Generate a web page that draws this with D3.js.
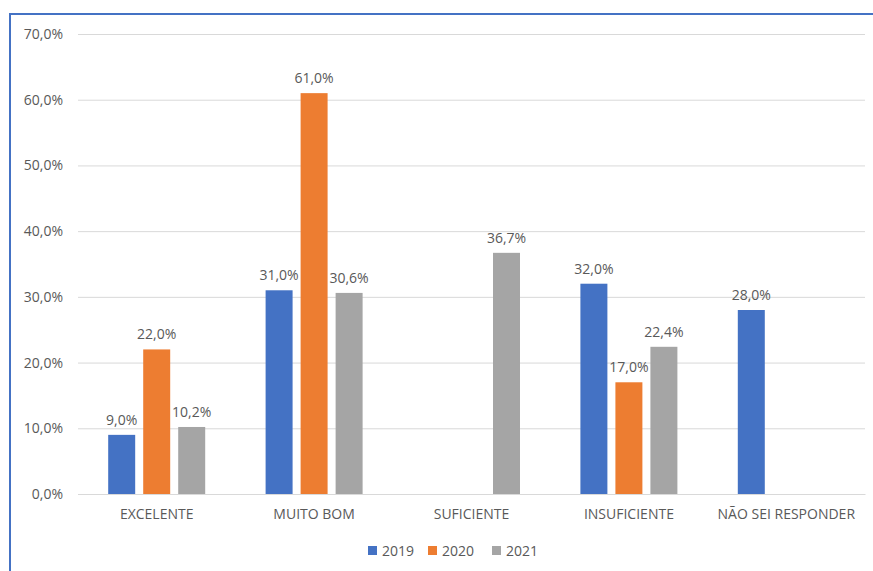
<!DOCTYPE html>
<html>
<head>
<meta charset="utf-8">
<script src="https://cdn.jsdelivr.net/npm/d3@7"></script>
<style>
  body { margin: 0; background: #fff; }
  text { font-family: "Open Sans", "Liberation Sans", sans-serif; fill: #595959; }
</style>
</head>
<body>
<div id="chart"></div>
<script>
// chart values
let categories = ["EXCELENTE", "MUITO BOM", "SUFICIENTE", "INSUFICIENTE", "NÃO SEI RESPONDER"];
let years = ["2019", "2020", "2021"];
let values2019 = [9.0, 31.0, null, 32.0, 28.0];
let values2020 = [22.0, 61.0, null, 17.0, null];
let values2021 = [10.2, 30.6, 36.7, 22.4, null];
let yTicks = [0, 10, 20, 30, 40, 50, 60, 70];
let colors = ["#4472C4", "#ED7D31", "#A5A5A5"];

let width = 873;
let height = 571;
let margin = ({top: 34, right: 8, bottom: 77, left: 78});

let series = [values2019, values2020, values2021];
let fmt = d => d3.format(".1f")(d).replace(".", ",") + "%";

let svg = d3.select("#chart")
    .append("svg")
    .attr("width", width)
    .attr("height", height)

// frame
svg.append("rect")
    .attr("x", 10)
    .attr("y", 14)
    .attr("width", width + 20)
    .attr("height", height + 20)
    .attr("fill", "none")
    .attr("stroke", "#4472C4")
    .attr("stroke-width", 2)

let xScale = d3.scaleBand()
    .domain(categories)
    .range([margin.left, width - margin.right])

let inner = d3.scaleBand()
    .domain(years)
    .range([-48.5, 48.5])
    .paddingInner(0.229)

let yScale = d3.scaleLinear()
    .domain([0, 70])
    .range([height - margin.bottom, margin.top])

// gridlines
let yAxis = d3.axisLeft(yScale)
    .tickValues(yTicks)
    .tickSize(-(width - margin.left - margin.right))
    .tickFormat(fmt)

svg.append("g")
    .attr("class", "yaxis")
    .attr("transform", "translate(" + margin.left + ",0)")
    .call(yAxis)
    .call(g => g.select(".domain").remove())
    .call(g => g.selectAll(".tick line").attr("stroke", "#d9d9d9"))
    .call(g => g.selectAll(".tick text")
        .attr("x", -15)
        .style("font-size", "14px")
        .style("fill", "#595959"))

// x axis labels
let xAxis = d3.axisBottom(xScale).tickSize(0).tickPadding(15)

svg.append("g")
    .attr("class", "axes")
    .attr("transform", "translate(0," + (height - margin.bottom) + ")")
    .call(xAxis)
    .call(g => g.select(".domain").attr("stroke", "#d9d9d9"))
    .call(g => g.selectAll(".tick text")
        .style("font-size", "14px")
        .style("fill", "#595959"))

// bars
series.forEach((vals, si) => {
    let pts = categories.map((c, i) => ({cat: c, v: vals[i]})).filter(d => d.v != null)
    let g = svg.append("g")
    g.selectAll("rect")
        .data(pts)
        .enter()
        .append("rect")
        .attr("fill", colors[si])
        .attr("x", d => xScale(d.cat) + xScale.bandwidth() / 2 + inner(years[si]))
        .attr("width", inner.bandwidth())
        .attr("y", d => yScale(d.v))
        .attr("height", d => yScale(0) - yScale(d.v))
    g.selectAll("text")
        .data(pts)
        .enter()
        .append("text")
        .attr("x", d => xScale(d.cat) + xScale.bandwidth() / 2 + inner(years[si]) + inner.bandwidth() / 2)
        .attr("y", d => yScale(d.v) - 10)
        .attr("text-anchor", "middle")
        .style("font-size", "14px")
        .text(d => fmt(d.v))
})

// legend
let legendX = [368, 428, 492];
let legend = svg.append("g").attr("transform", "translate(0,546)")
years.forEach((y, i) => {
    legend.append("rect")
        .attr("x", legendX[i])
        .attr("y", 0)
        .attr("width", 9)
        .attr("height", 9)
        .attr("fill", colors[i])
    legend.append("text")
        .attr("x", legendX[i] + 14)
        .attr("y", 10)
        .style("font-size", "14px")
        .text(y)
})
</script>
</body>
</html>
